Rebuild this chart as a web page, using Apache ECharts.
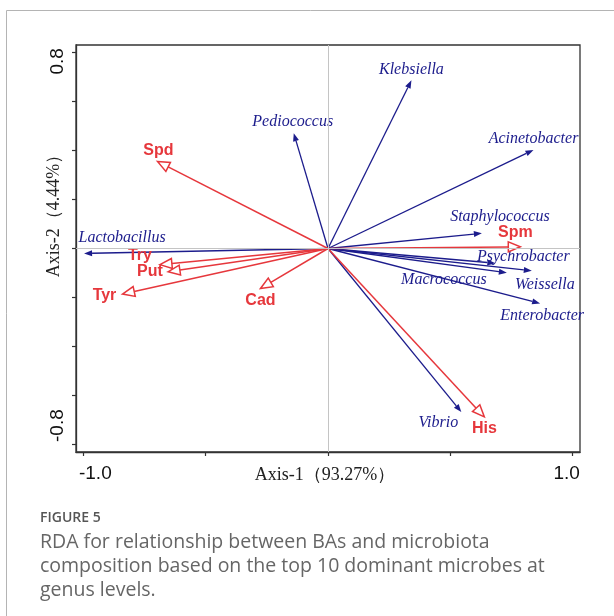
<!DOCTYPE html>
<html>
<head>
<meta charset="utf-8">
<script src="https://cdn.jsdelivr.net/npm/echarts@6/dist/echarts.min.js"></script>
<style>
  html, body { margin: 0; padding: 0; background: #fff; }
  #chart { width: 614px; height: 616px; }
</style>
</head>
<body>
<div id="chart"></div>
<script>
// RDA biplot: microbial genera (response) and biogenic amines (explanatory)
const microbes = ['Lactobacillus', 'Pediococcus', 'Klebsiella', 'Acinetobacter', 'Staphylococcus',
                  'Psychrobacter', 'Macrococcus', 'Weissella', 'Enterobacter', 'Vibrio'];
const microbeAxis1 = [-0.997, -0.140, 0.341, 0.840, 0.629, 0.684, 0.731, 0.833, 0.867, 0.545];
const microbeAxis2 = [-0.020, 0.470, 0.686, 0.402, 0.062, -0.060, -0.099, -0.091, -0.224, -0.667];

const amines = ['Spd', 'Try', 'Put', 'Tyr', 'Cad', 'Spm', 'His'];
const amineAxis1 = [-0.697, -0.687, -0.654, -0.840, -0.276, 0.786, 0.639];
const amineAxis2 = [0.355, -0.066, -0.095, -0.186, -0.163, 0.007, -0.687];

const xTicks = [-1.0, -0.5, 0, 0.5, 1.0];
const xTickLabels = [-1.0, 1.0];
const yTicks = [-0.8, -0.6, -0.4, -0.2, 0, 0.2, 0.4, 0.6, 0.8];
const yTickLabels = [-0.8, 0.8];

const xTitle = 'Axis-1（93.27%）';
const yTitle = 'Axis-2（4.44%）';
const figureTag = 'FIGURE 5';
const captionLines = [
  'RDA for relationship between BAs and microbiota',
  'composition based on the top 10 dominant microbes at',
  'genus levels.'
];

// label placement relative to each arrow tip, in pixels
const labelOffset = {
  Lactobacillus: [38, -16], Pediococcus: [-1, -11], Klebsiella: [0, -11],
  Acinetobacter: [0, -11], Staphylococcus: [18, -17], Psychrobacter: [28, -6],
  Macrococcus: [-63, 7], Weissella: [13, 14], Enterobacter: [2, 12], Vibrio: [-23, 11],
  Spd: [1, -11], Try: [-20, -9], Put: [-18, 0], Tyr: [-18, 1], Cad: [0, 12],
  Spm: [-5, -14], His: [0, 12]
};

const BLUE = '#1c1c8c';
const RED = '#e6373c';
const TICK_FONT = '"Liberation Sans", Arial, sans-serif';
const SERIF = '"Liberation Serif", "Times New Roman", serif';

function arrowRenderer(kind) {
  const isRed = kind === 'red';
  return function (params, api) {
    const name = api.value(2);
    const o = api.coord([0, 0]);
    const p = api.coord([api.value(0), api.value(1)]);
    const dx = p[0] - o[0], dy = p[1] - o[1];
    const len = Math.hypot(dx, dy) || 1;
    const ux = dx / len, uy = dy / len;
    const nx = -uy, ny = ux;
    const L = isRed ? 12 : 8;
    const W = isRed ? 5 : 3;
    const bx = p[0] - ux * L, by = p[1] - uy * L;
    const head = [[p[0], p[1]], [bx + nx * W, by + ny * W], [bx - nx * W, by - ny * W]];
    const off = labelOffset[name] || [0, 0];
    const color = isRed ? RED : BLUE;
    return {
      type: 'group',
      children: [
        { type: 'line', shape: { x1: o[0], y1: o[1], x2: bx, y2: by },
          style: { stroke: color, lineWidth: isRed ? 1.5 : 1.3 } },
        { type: 'polygon', shape: { points: head },
          style: isRed ? { fill: '#fff', stroke: color, lineWidth: 1.5 } : { fill: color } },
        { type: 'text', x: p[0] + off[0], y: p[1] + off[1],
          style: {
            text: name, fill: color, align: 'center', verticalAlign: 'middle',
            font: isRed ? 'bold 16px "Liberation Sans", Arial, sans-serif'
                        : 'italic 16px "Liberation Serif", "Times New Roman", serif'
          } }
      ]
    };
  };
}

const chart = echarts.init(document.getElementById('chart'), null, { renderer: 'canvas' });

const tickRich = (padding) => ({ fontSize: 19, fontFamily: TICK_FONT, color: '#111', padding });

const option = {
  backgroundColor: '#fff',
  animation: false,
  grid: { left: 76, top: 45, right: 34, bottom: 164, containLabel: false,
          show: true, borderColor: '#333', borderWidth: 1.3, backgroundColor: 'transparent' },
  xAxis: {
    type: 'value', min: -1.03, max: 1.03,
    name: xTitle, nameLocation: 'middle', nameGap: 14, nameMoveOverlap: false,
    nameTextStyle: { fontFamily: SERIF, fontSize: 18, color: '#222', padding: [0, 6, 0, 0] },
    axisLine: { show: true, onZero: false, lineStyle: { color: '#333', width: 1.3 } },
    axisTick: { show: true, length: 4, customValues: xTicks, lineStyle: { color: '#333', width: 1.2 } },
    axisLabel: {
      customValues: xTickLabels, margin: 12, color: '#111', fontSize: 19, fontFamily: TICK_FONT,
      formatter: v => (v < 0 ? '{n|' : '{p|') + v.toFixed(1) + '}',
      rich: { n: tickRich([0, 0, 0, 24]), p: tickRich([0, 12, 0, 0]) }
    },
    splitLine: { show: false }
  },
  yAxis: {
    type: 'value', min: -0.83, max: 0.83,
    name: yTitle, nameLocation: 'middle', nameGap: 13, nameMoveOverlap: false,
    nameTextStyle: { fontFamily: SERIF, fontSize: 18, color: '#222', padding: [0, 0, 0, 74] },
    axisLine: { show: true, onZero: false, lineStyle: { color: '#333', width: 1.3 } },
    axisTick: { show: true, length: 4, customValues: yTicks, lineStyle: { color: '#333', width: 1.2 } },
    axisLabel: {
      customValues: yTickLabels, margin: 9, rotate: 90, color: '#111', fontSize: 19, fontFamily: TICK_FONT,
      formatter: v => (v < 0 ? '{n|' : '{p|') + v.toFixed(1) + '}',
      rich: { n: tickRich([0, 0, 0, 38]), p: tickRich([0, 18, 0, 0]) }
    },
    splitLine: { show: false }
  },
  graphic: [
    { type: 'polyline', silent: true,
      shape: { points: [[6.5, 620], [6.5, 10.5], [620, 10.5]] },
      style: { stroke: '#b4b4b4', lineWidth: 1, fill: null } },
    { type: 'text', left: 40, top: 511,
      style: { text: figureTag, fill: '#555', font: '600 14px "Open Sans", sans-serif' } },
    ...captionLines.map((t, i) => ({
      type: 'text', left: 40, top: 532 + i * 24.3,
      style: { text: t, fill: '#666', font: '19.5px "Open Sans", sans-serif' }
    }))
  ],
  series: [
    {
      // zero reference lines
      type: 'scatter', data: [], silent: true,
      markLine: {
        silent: true, symbol: 'none', label: { show: false },
        lineStyle: { color: '#c4c4c4', width: 1, type: 'solid' },
        data: [{ xAxis: 0 }, { yAxis: 0 }]
      }
    },
    {
      type: 'custom', name: 'microbes', renderItem: arrowRenderer('blue'),
      data: microbes.map((m, i) => [microbeAxis1[i], microbeAxis2[i], m]),
      encode: { x: 0, y: 1 }, z: 3
    },
    {
      type: 'custom', name: 'amines', renderItem: arrowRenderer('red'),
      data: amines.map((a, i) => [amineAxis1[i], amineAxis2[i], a]),
      encode: { x: 0, y: 1 }, z: 4
    }
  ]
};

chart.setOption(option);
</script>
</body>
</html>
